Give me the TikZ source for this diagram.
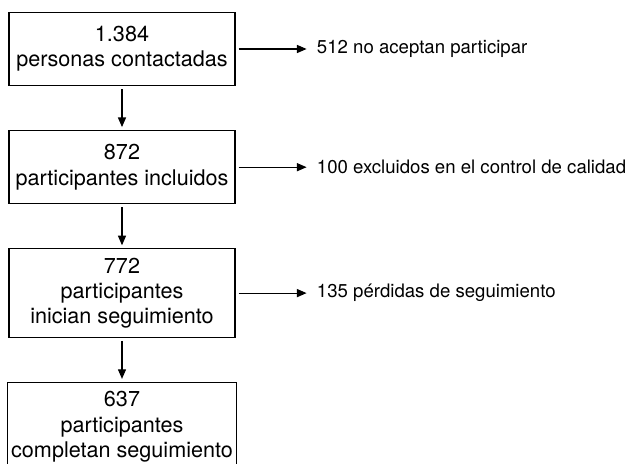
\documentclass[tikz,border=0pt]{standalone}
\usepackage{fontspec}
\setmainfont{TeX Gyre Heros}
\usetikzlibrary{arrows.meta,positioning}

\begin{document}
\begin{tikzpicture}[>={Triangle[length=4.8pt,width=4pt]},node distance=22pt,
    box/.style={draw,line width=0.6pt,align=center,minimum width=113pt,minimum height=36.5pt,
      inner xsep=2pt,inner ysep=4.5pt,font=\fontsize{10.8}{12.6}\selectfont},
    note/.style={inner sep=3.5pt,font=\fontsize{9.3}{11}\selectfont}]
   \useasboundingbox (-61pt,24.5pt) rectangle (253.5pt,-207.5pt);
   \node[box] (contact) {1.384\\personas contactadas};
   \node[box] (incl) [below=of contact] {872\\participantes incluidos};
   \node[box] (start) [below=of incl] {772\\participantes\\inician seguimiento};
   \node[box] (done) [below=of start] {637\\participantes\\completan seguimiento};
   \node[note] (refuse) [right=37pt of contact] {512 no aceptan participar};
   \node[note] (excl) [right=37pt of incl] {100 excluidos en el control de calidad};
   \node[note] (lost) [right=37pt of start] {135 pérdidas de seguimiento};
    \path[->,line width=0.6pt,shorten >=1.5pt,shorten <=1.5pt]
    (contact) edge (incl)
              edge (refuse)
    (incl) edge (start)
           edge (excl)
    (start) edge (done)
            edge (lost);
\end{tikzpicture}
\end{document}
